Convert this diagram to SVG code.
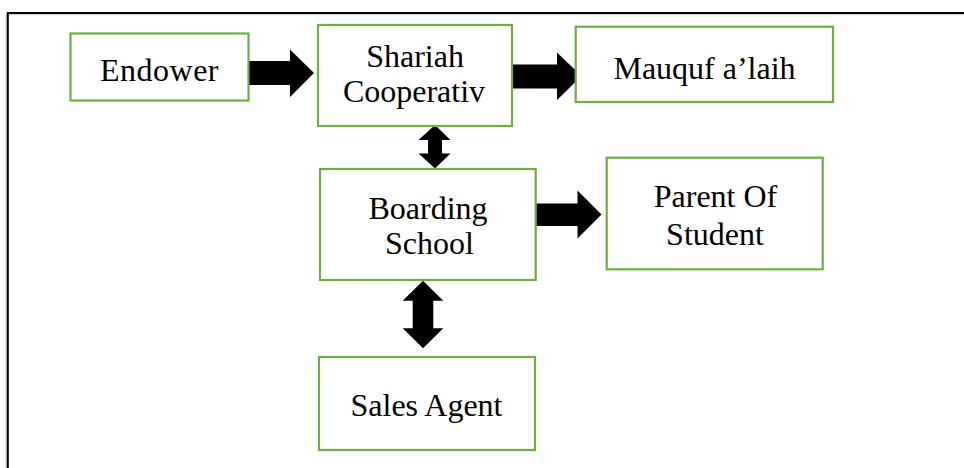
<svg xmlns="http://www.w3.org/2000/svg" width="964" height="468" viewBox="0 0 964 468">
<style>
.box{fill:#ffffff;stroke:#70AD47;stroke-width:2.2}
.lbl{font-family:"Liberation Serif","Times New Roman",serif;font-size:32px;fill:#000;text-anchor:middle}
.arr{fill:#000;stroke:none}
</style>
<rect x="0" y="0" width="964" height="468" fill="#ffffff"/>
<g id="frame">
<path d="M6 470 V14.5 H966" fill="none" stroke="#d8d8d8" stroke-width="1.5"/>
<path d="M7.8 470 V13 H966" fill="none" stroke="#000" stroke-width="2"/>
</g>
<g id="connectors">
<polygon class="arr" points="244,61 290,61 290,49.5 314,73 290,97 290,85 244,85"/>
<polygon class="arr" points="512,64.5 557,64.5 557,52.5 581.5,76 557,100 557,88.5 512,88.5"/>
<polygon class="arr" points="532,203.5 577.5,203.5 577.5,190.5 601.5,214.5 577.5,238.5 577.5,226 532,226"/>
<polygon class="arr" points="435,125 450.5,140 442,140 442,153.5 450.5,153.5 435,168.5 418.5,153.5 428,153.5 428,140 418.5,140"/>
<polygon class="arr" points="423,280.7 443.3,300.7 433.3,300.7 433.3,328.3 443.3,328.3 423,348.3 402.7,328.3 412.7,328.3 412.7,300.7 402.7,300.7"/>
</g>
<g id="endower">
<rect class="box" x="70.5" y="33.5" width="178" height="67"/>
<text class="lbl" x="159.5" y="81" letter-spacing="0.5">Endower</text>
</g>
<g id="shariah">
<rect class="box" x="318" y="25" width="194" height="101"/>
<text class="lbl" x="415" y="66.7">Shariah</text>
<text class="lbl" x="414" y="101.7">Cooperativ</text>
</g>
<g id="mauquf">
<rect class="box" x="575.7" y="26.7" width="257.3" height="75.3"/>
<text class="lbl" x="704.5" y="79">Mauquf a’laih</text>
</g>
<g id="boarding">
<rect class="box" x="320" y="169" width="215.7" height="111"/>
<text class="lbl" x="428" y="219">Boarding</text>
<text class="lbl" x="429.5" y="254">School</text>
</g>
<g id="parent">
<rect class="box" x="606.7" y="157.7" width="216" height="111.6"/>
<text class="lbl" x="715.5" y="206.7">Parent Of</text>
<text class="lbl" x="715" y="245">Student</text>
</g>
<g id="sales">
<rect class="box" x="319" y="357" width="216" height="93"/>
<text class="lbl" x="426.5" y="415.7">Sales Agent</text>
</g>
</svg>
